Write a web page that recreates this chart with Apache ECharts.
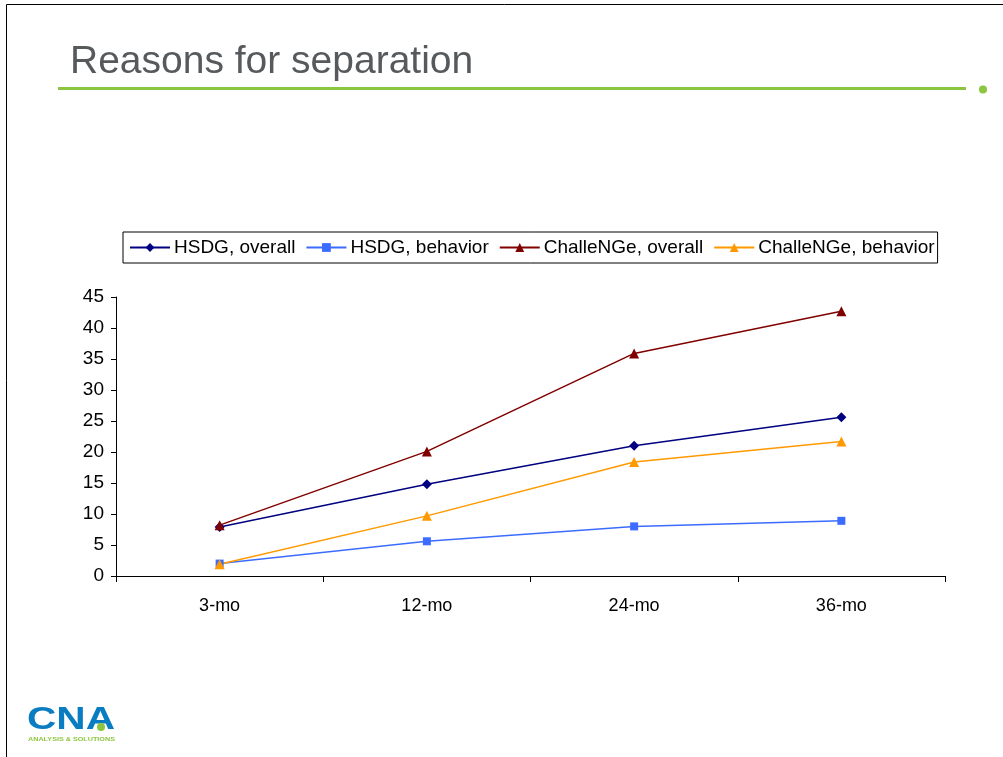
<!DOCTYPE html>
<html>
<head>
<meta charset="utf-8">
<script src="https://cdn.jsdelivr.net/npm/echarts@6/dist/echarts.min.js"></script>
<style>
html,body{margin:0;padding:0;background:#fff;}
#chart{width:1003px;height:757px;}
</style>
</head>
<body>
<div id="chart"></div>
<script>
const categories = ['3-mo', '12-mo', '24-mo', '36-mo'];
const hsdgOverall = [7.9, 14.8, 21.0, 25.6];
const hsdgBehavior = [2.0, 5.6, 8.0, 8.9];
const challengeOverall = [8.2, 20.1, 35.9, 42.7];
const challengeBehavior = [1.9, 9.7, 18.4, 21.7];
const seriesNames = ['HSDG, overall', 'HSDG, behavior', 'ChalleNGe, overall', 'ChalleNGe, behavior'];

const FONT = '"Liberation Sans", Arial, sans-serif';
const chart = echarts.init(document.getElementById('chart'), null, {renderer: 'canvas'});

function mk(name, data, color, symbol, size) {
  return {
    name: name, type: 'line', data: data,
    symbol: symbol, symbolSize: size,
    lineStyle: {color: color, width: 1.5},
    itemStyle: {color: color},
    emphasis: {disabled: true},
    animation: false
  };
}

chart.setOption({
  animation: false,
  backgroundColor: '#fff',
  textStyle: {fontFamily: FONT},
  graphic: [
    {type: 'line', shape: {x1: 6.5, y1: 4.5, x2: 1003, y2: 4.5}, style: {stroke: '#000', lineWidth: 1}},
    {type: 'line', shape: {x1: 6.5, y1: 4.5, x2: 6.5, y2: 757}, style: {stroke: '#000', lineWidth: 1}},
    {type: 'text', left: 70, top: 43, style: {text: 'Reasons for separation', font: '39px "Liberation Sans", Arial, sans-serif', fill: '#565a5d'}},
    {type: 'rect', shape: {x: 58, y: 87, width: 908, height: 3}, style: {fill: '#8cc63f'}},
    {type: 'circle', shape: {cx: 983, cy: 89.5, r: 4}, style: {fill: '#8cc63f'}},
    {type: 'text', x: 27, y: 704, scaleX: 1.27, style: {text: 'CNA', font: 'bold 32px "Liberation Sans", Arial, sans-serif', fill: '#0a7cc2'}},
    {type: 'circle', shape: {cx: 101, cy: 727, r: 4}, style: {fill: '#8cc63f'}},
    {type: 'text', x: 28, y: 736, scaleX: 1.2, style: {text: 'ANALYSIS & SOLUTIONS', font: 'bold 6px "Liberation Sans", Arial, sans-serif', fill: '#8cc63f'}}
  ],
  legend: {
    left: 123, top: 232,
    data: seriesNames,
    orient: 'horizontal',
    borderColor: '#000', borderWidth: 1,
    padding: [6, 3, 6, 6],
    itemGap: 10, itemWidth: 40, itemHeight: 11,
    textStyle: {fontSize: 19, color: '#000', fontFamily: FONT, padding: [0, 0, 0, -1]},
    selectedMode: false
  },
  grid: {left: 116, right: 58, top: 297, bottom: 181, containLabel: false},
  xAxis: {
    type: 'category', data: categories, boundaryGap: true,
    axisLine: {lineStyle: {color: '#000', width: 1}},
    axisTick: {show: true, length: 6, lineStyle: {color: '#000'}, alignWithLabel: false},
    axisLabel: {fontSize: 18, color: '#000', margin: 21, fontFamily: FONT},
    splitLine: {show: false}
  },
  yAxis: {
    type: 'value', min: 0, max: 45, interval: 5,
    axisLine: {show: true, lineStyle: {color: '#000', width: 1}},
    axisTick: {show: true, length: 5, lineStyle: {color: '#000'}},
    axisLabel: {fontSize: 19, color: '#000', margin: 12, fontFamily: FONT},
    splitLine: {show: false}
  },
  series: [
    mk(seriesNames[0], hsdgOverall, '#000080', 'diamond', 10),
    mk(seriesNames[1], hsdgBehavior, '#3b6cff', 'rect', 8),
    mk(seriesNames[2], challengeOverall, '#800000', 'triangle', 10),
    mk(seriesNames[3], challengeBehavior, '#ff9900', 'triangle', 10)
  ]
});
</script>
</body>
</html>
